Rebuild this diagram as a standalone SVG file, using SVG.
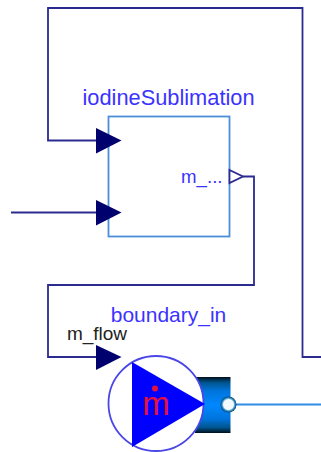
<svg xmlns="http://www.w3.org/2000/svg" width="321" height="452" viewBox="0 0 321 452">
<style>
.c{fill:none;stroke:#2a2a90;stroke-width:1.8}
.a{fill:#00006e}
.l{font-family:"Liberation Sans",Arial,sans-serif;fill:#3c32ff}
</style>
<defs>
<linearGradient id="g" x1="0" y1="0" x2="0" y2="1">
<stop offset="0" stop-color="#00101c"/><stop offset="0.1" stop-color="#00558f"/><stop offset="0.25" stop-color="#0074dc"/><stop offset="0.5" stop-color="#0088ff"/><stop offset="0.75" stop-color="#0074dc"/><stop offset="0.9" stop-color="#00558f"/><stop offset="1" stop-color="#00101c"/>
</linearGradient>
<radialGradient id="p"><stop offset="0.62" stop-color="#f2faff"/><stop offset="0.78" stop-color="#3f9fd8"/><stop offset="1" stop-color="#0a3a5c"/></radialGradient>
</defs>
<g id="connectors">
<polyline class="c" points="321,357 302.500,357 302.500,8 48,8 48,140.500 97,140.500"/>
<polyline class="c" points="11,212.500 97,212.500"/>
<polyline class="c" points="243,176.500 254,176.500 254,285 48,285 48,357 97,357"/>
<line x1="235" y1="404.500" x2="321" y2="404.500" stroke="#2f8ce8" stroke-width="1.800"/>
</g>
<g id="iodineSublimation">
<rect x="108.500" y="116.500" width="121" height="120" fill="#fff" stroke="#4a90d9" stroke-width="1.800"/>
<polygon class="a" points="96,128 121.500,140.500 96,153.500"/>
<polygon class="a" points="96,200 121.500,212.500 96,225.500"/>
<polygon points="229.500,170 243,176.500 229.500,183" fill="#fff" stroke="#2a2a90" stroke-width="1.800"/>
<text class="l" x="168.500" y="105" font-size="21.800" text-anchor="middle">iodineSublimation</text>
<text class="l" x="181" y="183" font-size="18.700">m_...</text>
</g>
<g id="boundary_in">
<rect x="195" y="377" width="35.500" height="56" fill="url(#g)"/>
<circle cx="156" cy="403.500" r="47.500" fill="#fff" stroke="#4a46e8" stroke-width="1.800"/>
<polygon points="132,362 205,404 132,447" fill="#0000ff"/>
<text x="156" y="414.500" font-family="'Liberation Sans',Arial,sans-serif" font-size="33" fill="#e6103c" text-anchor="middle">m</text>
<circle cx="155" cy="388.500" r="3" fill="#e6103c"/>
<circle cx="228.500" cy="404.500" r="8" fill="url(#p)"/>
<polygon class="a" points="96,345 121.500,357 96,370"/>
<text class="l" x="168.500" y="321.500" font-size="21" text-anchor="middle">boundary_in</text>
<text x="97" y="340" font-family="'Liberation Sans',Arial,sans-serif" font-size="19" fill="#222" text-anchor="middle">m_flow</text>
</g>
</svg>
